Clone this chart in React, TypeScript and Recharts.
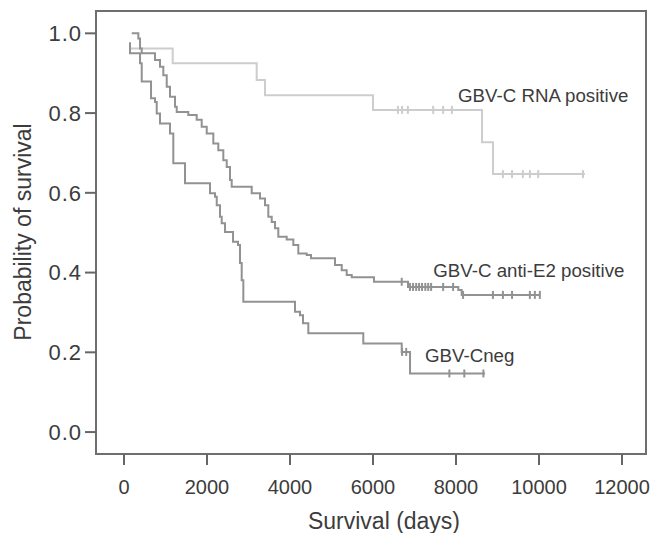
import React from 'react';
import { ComposedChart, Line, Scatter, XAxis, YAxis, ReferenceArea, ReferenceDot, Label } from 'recharts';

// step events: time (days) and survival after the event
const rnaTimes = [150, 1173, 3197, 3398, 6000, 8627, 8892, 11108];
const rnaSurv = [0.962, 0.925, 0.883, 0.845, 0.808, 0.727, 0.647, 0.647];
const rnaCensored = [6600, 6700, 6840, 7450, 7690, 7900, 9130, 9350, 9610, 9780, 9980, 11060];

const e2Times = [186, 345, 386, 427, 747, 867, 947, 1029, 1108, 1229, 1270, 1549, 1751, 1872, 1993, 2152, 2272, 2393, 2475, 2554, 2595, 3077, 3277, 3398, 3477, 3559, 3639, 3718, 3920, 4080, 4200, 4402, 4506, 5084, 5246, 5366, 5487, 6024, 6843, 8055, 8137, 10024];
const e2Surv = [1.0, 0.987, 0.962, 0.95, 0.933, 0.916, 0.895, 0.866, 0.841, 0.816, 0.803, 0.795, 0.783, 0.766, 0.749, 0.724, 0.707, 0.682, 0.665, 0.632, 0.615, 0.599, 0.586, 0.569, 0.54, 0.527, 0.511, 0.49, 0.483, 0.469, 0.448, 0.444, 0.436, 0.419, 0.406, 0.394, 0.388, 0.377, 0.364, 0.356, 0.344, 0.344];
const e2Censored = [6692, 6890, 6965, 7040, 7110, 7180, 7260, 7330, 7400, 7690, 7930, 8170, 8890, 9130, 9350, 9780, 9900, 10020];

const negTimes = [120, 145, 386, 427, 651, 747, 788, 867, 1108, 1188, 1470, 2072, 2193, 2234, 2313, 2354, 2434, 2627, 2747, 2795, 2836, 2875, 4120, 4241, 4313, 4441, 5766, 6692, 6892, 8700];
const negSurv = [0.975, 0.95, 0.925, 0.879, 0.837, 0.828, 0.799, 0.774, 0.749, 0.674, 0.624, 0.599, 0.59, 0.569, 0.54, 0.524, 0.502, 0.477, 0.469, 0.424, 0.381, 0.327, 0.302, 0.293, 0.273, 0.248, 0.222, 0.201, 0.147, 0.147];
const negCensored = [6700, 6800, 7840, 8200, 8660];

const xTicks = [0, 2000, 4000, 6000, 8000, 10000, 12000];
const yTicks = [0, 0.2, 0.4, 0.6, 0.8, 1.0];
const xDomain = [-675, 12578];
const yDomain = [-0.055, 1.056];

const font = '"Liberation Sans", Arial, Helvetica, sans-serif';
const textColor = '#3c3c3c';
const darkGray = '#929292';
const lightGray = '#cdcdcd';

function toRows(times: number[], surv: number[]) {
  return times.map((t, i) => ({ t, p: surv[i] }));
}

function censorRows(times: number[], surv: number[], cens: number[]) {
  return cens.map(c => {
    let p = surv[0];
    for (let i = 0; i < times.length; i++) if (times[i] <= c) p = surv[i];
    return { t: c, p };
  });
}

const censorTick = (color: string) => (props: any) => {
  const { cx, cy } = props;
  return <line x1={cx} x2={cx} y1={cy - 4} y2={cy + 4} stroke={color} strokeWidth={2} />;
};

export default function App() {
  const tickStyle = { fill: textColor, fontSize: 20, fontFamily: font };
  const noteStyle = { fill: textColor, fontSize: 18.7, fontFamily: font };
  return (
    <div style={{ position: 'absolute', left: 0, top: 0, width: 658, height: 533, background: '#fff' }}>
      <ComposedChart width={658} height={533} margin={{ top: 11, right: 12, left: 0, bottom: 0 }}>
        <XAxis dataKey="t" type="number" domain={xDomain} ticks={xTicks} allowDataOverflow height={79}
          axisLine={false} tickSize={11} tickMargin={15} tickLine={{ stroke: '#666', strokeWidth: 2 }} tick={tickStyle}>
          <Label content={() => (
            <text x={384} y={521} textAnchor="middle" dominantBaseline="central" fill={textColor} fontSize={23} fontFamily={font}>Survival (days)</text>
          )} />
        </XAxis>
        <YAxis dataKey="p" type="number" domain={yDomain} ticks={yTicks} allowDataOverflow width={96}
          axisLine={false} tickSize={11} tickMargin={3} tickLine={{ stroke: '#666', strokeWidth: 2 }}
          tick={{ ...tickStyle, fontSize: 22, letterSpacing: 1 }} tickFormatter={(v: number) => v.toFixed(1)}>
          <Label content={() => (
            <text x={23} y={232} transform="rotate(-90 23 232)" textAnchor="middle" dominantBaseline="central" fill={textColor} fontSize={23} fontFamily={font}>Probability of survival</text>
          )} />
        </YAxis>
        <ReferenceArea x1={xDomain[0]} x2={xDomain[1]} y1={yDomain[0]} y2={yDomain[1]} fill="none" fillOpacity={0}
          stroke="#6e6e6e" strokeWidth={2} ifOverflow="visible" />
        <Line data={toRows(rnaTimes, rnaSurv)} dataKey="p" type="stepAfter" stroke={lightGray} strokeWidth={2} dot={false} isAnimationActive={false} />
        <Line data={toRows(e2Times, e2Surv)} dataKey="p" type="stepAfter" stroke={darkGray} strokeWidth={2} dot={false} isAnimationActive={false} />
        <Line data={toRows(negTimes, negSurv)} dataKey="p" type="stepAfter" stroke={darkGray} strokeWidth={2} dot={false} isAnimationActive={false} />
        <Scatter data={censorRows(rnaTimes, rnaSurv, rnaCensored)} dataKey="p" shape={censorTick(lightGray)} isAnimationActive={false} />
        <Scatter data={censorRows(e2Times, e2Surv, e2Censored)} dataKey="p" shape={censorTick(darkGray)} isAnimationActive={false} />
        <Scatter data={censorRows(negTimes, negSurv, negCensored)} dataKey="p" shape={censorTick(darkGray)} isAnimationActive={false} />
        <ReferenceDot x={8050} y={0.845} r={0} fill="none" stroke="none"
          label={{ value: 'GBV-C RNA positive', position: 'right', offset: 0, ...noteStyle }} />
        <ReferenceDot x={7453} y={0.406} r={0} fill="none" stroke="none"
          label={{ value: 'GBV-C anti-E2 positive', position: 'right', offset: 0, ...noteStyle }} />
        <ReferenceDot x={7253} y={0.193} r={0} fill="none" stroke="none"
          label={{ value: 'GBV-Cneg', position: 'right', offset: 0, ...noteStyle }} />
      </ComposedChart>
    </div>
  );
}
